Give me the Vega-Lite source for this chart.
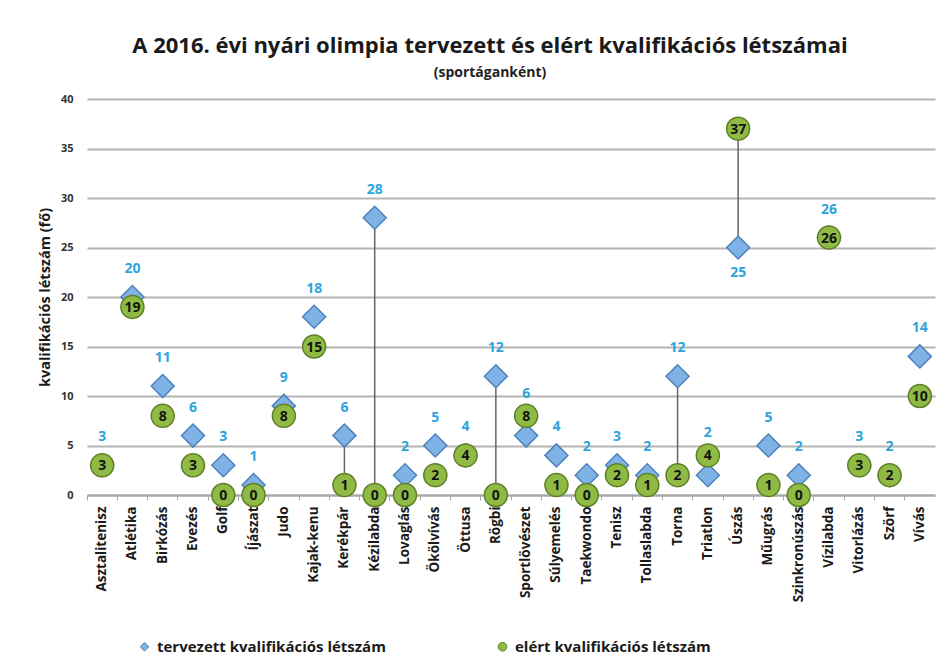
{
  "$schema": "https://vega.github.io/schema/vega-lite/v6.json",
  "width": 848,
  "height": 396,
  "autosize": {"type": "none"},
  "padding": {"left": 87, "top": 99, "right": 11, "bottom": 177},
  "background": "white",
  "title": {
    "text": "A 2016. évi nyári olimpia tervezett és elért kvalifikációs létszámai",
    "subtitle": "(sportáganként)",
    "anchor": "middle",
    "dx": -21,
    "font": "Open Sans",
    "fontSize": 22,
    "fontWeight": "bold",
    "color": "#1a1a1a",
    "subtitleFont": "Open Sans",
    "subtitleFontSize": 14,
    "subtitleFontWeight": "bold",
    "subtitleColor": "#222222",
    "subtitlePadding": 8,
    "offset": 12
  },
  "config": {
    "view": {"stroke": null},
    "font": "Open Sans"
  },
  "data": {
    "values": [
      {"sport": "Asztalitenisz", "planned": 3, "achieved": 3},
      {"sport": "Atlétika", "planned": 20, "achieved": 19},
      {"sport": "Birkózás", "planned": 11, "achieved": 8},
      {"sport": "Evezés", "planned": 6, "achieved": 3},
      {"sport": "Golf", "planned": 3, "achieved": 0},
      {"sport": "Íjászat", "planned": 1, "achieved": 0},
      {"sport": "Judo", "planned": 9, "achieved": 8},
      {"sport": "Kajak-kenu", "planned": 18, "achieved": 15},
      {"sport": "Kerékpár", "planned": 6, "achieved": 1},
      {"sport": "Kézilabda", "planned": 28, "achieved": 0},
      {"sport": "Lovaglás", "planned": 2, "achieved": 0},
      {"sport": "Ökölvívás", "planned": 5, "achieved": 2},
      {"sport": "Öttusa", "planned": 4, "achieved": 4},
      {"sport": "Rögbi", "planned": 12, "achieved": 0},
      {"sport": "Sportlövészet", "planned": 6, "achieved": 8},
      {"sport": "Súlyemelés", "planned": 4, "achieved": 1},
      {"sport": "Taekwondo", "planned": 2, "achieved": 0},
      {"sport": "Tenisz", "planned": 3, "achieved": 2},
      {"sport": "Tollaslabda", "planned": 2, "achieved": 1},
      {"sport": "Torna", "planned": 12, "achieved": 2},
      {"sport": "Triatlon", "planned": 2, "achieved": 4},
      {"sport": "Úszás", "planned": 25, "achieved": 37},
      {"sport": "Műugrás", "planned": 5, "achieved": 1},
      {"sport": "Szinkronúszás", "planned": 2, "achieved": 0},
      {"sport": "Vízilabda", "planned": 26, "achieved": 26},
      {"sport": "Vitorlázás", "planned": 3, "achieved": 3},
      {"sport": "Szörf", "planned": 2, "achieved": 2},
      {"sport": "Vívás", "planned": 14, "achieved": 10}
    ]
  },
  "encoding": {
    "x": {
      "field": "sport",
      "type": "nominal",
      "sort": null,
      "scale": {
        "type": "band",
        "paddingInner": 0,
        "paddingOuter": 0,
        "domain": ["Asztalitenisz", "Atlétika", "Birkózás", "Evezés", "Golf", "Íjászat", "Judo", "Kajak-kenu", "Kerékpár", "Kézilabda", "Lovaglás", "Ökölvívás", "Öttusa", "Rögbi", "Sportlövészet", "Súlyemelés", "Taekwondo", "Tenisz", "Tollaslabda", "Torna", "Triatlon", "Úszás", "Műugrás", "Szinkronúszás", "Vízilabda", "Vitorlázás", "Szörf", "Vívás"]
      },
      "axis": {
        "title": null,
        "grid": false,
        "bandPosition": 0,
        "domainColor": "#a8a8a8",
        "domainWidth": 2,
        "ticks": true,
        "tickColor": "#a8a8a8",
        "tickSize": 5,
        "tickWidth": 1,
        "labelAngle": -90,
        "labelAlign": "right",
        "labelBaseline": "middle",
        "labelPadding": 6,
        "labelFont": "Open Sans",
        "labelFontSize": 13.5,
        "labelFontWeight": "bold",
        "labelColor": "#1a1a1a"
      }
    }
  },
  "layer": [
    {
      "transform": [{"filter": {"field": "sport", "oneOf": ["Kerékpár", "Kézilabda", "Rögbi", "Torna", "Úszás"]}}],
      "mark": {"type": "rule", "color": "#666666", "strokeWidth": 1.5},
      "encoding": {
        "y": {
          "field": "planned",
          "type": "quantitative",
          "scale": {"domain": [0, 40]},
          "axis": {
            "title": "kvalifikációs létszám (fő)",
            "titleFont": "Open Sans",
            "titleFontSize": 14.5,
            "titleFontWeight": "bold",
            "titleColor": "#1a1a1a",
            "titlePadding": 8,
            "values": [0, 5, 10, 15, 20, 25, 30, 35, 40],
            "grid": true,
            "gridColor": "#b4b4b4",
            "gridWidth": 2,
            "domain": false,
            "ticks": false,
            "labelFont": "Open Sans",
            "labelFontSize": 11,
            "labelFontWeight": "bold",
            "labelColor": "#333333",
            "labelPadding": 14
          }
        },
        "y2": {"field": "achieved"}
      }
    },
    {
      "transform": [{"fold": ["planned", "achieved"], "as": ["series", "value"]}],
      "mark": {"type": "point", "filled": true, "opacity": 1, "strokeWidth": 1.5, "size": 530},
      "encoding": {
        "y": {"field": "value", "type": "quantitative"},
        "shape": {
          "field": "series",
          "type": "nominal",
          "scale": {"domain": ["planned", "achieved"], "range": ["diamond", "circle"]},
          "legend": {
            "title": null,
            "orient": "none",
            "legendX": 50,
            "legendY": 540,
            "direction": "horizontal",
            "columnPadding": 109,
            "labelFont": "Open Sans",
            "labelFontSize": 15,
            "labelFontWeight": "bold",
            "labelColor": "#1a1a1a",
            "labelOffset": 5,
            "labelLimit": 400,
            "symbolSize": 75,
            "symbolStrokeWidth": 1,
            "labelExpr": "datum.value == 'planned' ? 'tervezett kvalifikációs létszám' : 'elért kvalifikációs létszám'"
          }
        },
        "fill": {
          "field": "series",
          "type": "nominal",
          "scale": {"domain": ["planned", "achieved"], "range": ["#7fb3e6", "#8fbb45"]}
        },
        "stroke": {
          "field": "series",
          "type": "nominal",
          "scale": {"domain": ["planned", "achieved"], "range": ["#4f81bd", "#5e7f26"]}
        },
        "order": {"field": "series", "sort": "descending"}
      }
    },
    {
      "transform": [{"filter": "datum.achieved <= datum.planned"}],
      "mark": {"type": "text", "dy": -28, "baseline": "middle", "font": "Open Sans", "fontSize": 14, "fontWeight": "bold", "color": "#2fa4dc"},
      "encoding": {
        "y": {"field": "planned", "type": "quantitative"},
        "text": {"field": "planned", "type": "quantitative"}
      }
    },
    {
      "transform": [{"filter": "datum.achieved > datum.planned && datum.achieved - datum.planned < 10"}],
      "mark": {"type": "text", "dy": -22, "baseline": "middle", "font": "Open Sans", "fontSize": 14, "fontWeight": "bold", "color": "#2fa4dc"},
      "encoding": {
        "y": {"field": "achieved", "type": "quantitative"},
        "text": {"field": "planned", "type": "quantitative"}
      }
    },
    {
      "transform": [{"filter": "datum.achieved - datum.planned >= 10"}],
      "mark": {"type": "text", "dy": 25, "baseline": "middle", "font": "Open Sans", "fontSize": 14, "fontWeight": "bold", "color": "#2fa4dc"},
      "encoding": {
        "y": {"field": "planned", "type": "quantitative"},
        "text": {"field": "planned", "type": "quantitative"}
      }
    },
    {
      "mark": {"type": "text", "dy": 1, "baseline": "middle", "font": "Open Sans", "fontSize": 14, "fontWeight": "bold", "color": "#141414"},
      "encoding": {
        "y": {"field": "achieved", "type": "quantitative"},
        "text": {"field": "achieved", "type": "quantitative"}
      }
    }
  ]
}
